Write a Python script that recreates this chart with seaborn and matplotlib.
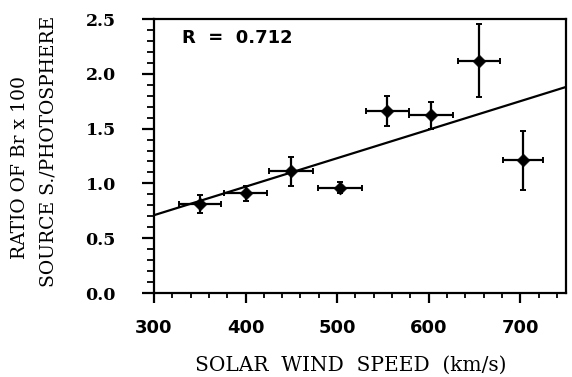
import numpy as np
import pandas as pd
import seaborn as sns
import matplotlib.pyplot as plt
from matplotlib.ticker import MultipleLocator

# values
speed = [350, 400, 450, 503, 555, 603, 655, 703]
speed_err = [23, 23, 24, 24, 23, 24, 23, 22]
ratio = [0.81, 0.91, 1.11, 0.96, 1.66, 1.62, 2.12, 1.21]
ratio_err = [0.08, 0.07, 0.13, 0.05, 0.14, 0.12, 0.33, 0.27]
fit_speed = [300, 750]
fit_ratio = [0.71, 1.88]
x_ticks = [300, 400, 500, 600, 700]
y_ticks = [0.0, 0.5, 1.0, 1.5, 2.0, 2.5]

sns.set_theme(style="ticks")
plt.rcParams["font.family"] = ["DejaVu Sans"]
plt.rcParams.update({"text.color": "black", "axes.labelcolor": "black",
                     "xtick.color": "black", "ytick.color": "black"})

df = pd.DataFrame({"speed": speed, "ratio": ratio})
fit = pd.DataFrame({"speed": fit_speed, "ratio": fit_ratio})

fig = plt.figure(figsize=(5.72, 3.77), dpi=100)
ax = fig.add_axes([0.2692, 0.2228, 0.7203, 0.7268])

ax.errorbar(speed, ratio, xerr=speed_err, yerr=ratio_err, fmt="none",
            ecolor="black", elinewidth=1.6, capsize=2.2, capthick=1.4, zorder=2)
sns.scatterplot(data=df, x="speed", y="ratio", ax=ax, marker="D", s=42,
                color="black", edgecolor="black", zorder=3)
sns.lineplot(data=fit, x="speed", y="ratio", ax=ax, color="black", lw=1.6,
             zorder=1)

ax.set_xlim(300, 750)
ax.set_ylim(0, 2.5)
ax.set_xticks(x_ticks)
ax.set_yticks(y_ticks)
ax.set_xticklabels([str(v) for v in x_ticks], fontsize=13, fontweight="bold")
ax.set_yticklabels([f"{v:.1f}" for v in y_ticks], fontsize=12.5,
                   fontweight="bold", family="DejaVu Serif")
ax.xaxis.set_minor_locator(MultipleLocator(20))
ax.yaxis.set_minor_locator(MultipleLocator(0.1))
ax.tick_params(which="major", direction="out", width=1.6)
ax.tick_params(which="minor", direction="out", width=1.3)
ax.tick_params(axis="x", which="major", length=7, pad=12)
ax.tick_params(axis="x", which="minor", length=3.5)
ax.tick_params(axis="y", which="major", length=8.5, pad=19)
ax.tick_params(axis="y", which="minor", length=5)
for sp in ax.spines.values():
    sp.set_visible(True)
    sp.set_linewidth(1.6)
    sp.set_color("black")

# axis titles placed as figure text to match the two-line y title
ax.set_xlabel("")
ax.set_ylabel("")
label_font = dict(family="DejaVu Serif", fontsize=13.5)
fig.text(0.613, 0.0167, "SOLAR  WIND  SPEED  (km/s)", ha="center",
         va="baseline", family="DejaVu Serif", fontsize=14.5)
fig.text(0.035, 0.555, "RATIO OF Br x 100", rotation=90, ha="center",
         va="center", **label_font)
fig.text(0.084, 0.599, "SOURCE S./PHOTOSPHERE", rotation=90, ha="center",
         va="center", **label_font)
ax.text(0.067, 0.93, "R  =  0.712", transform=ax.transAxes, fontsize=13,
        fontweight="bold", va="center", ha="left")

fig.savefig("out.png", dpi=100)
